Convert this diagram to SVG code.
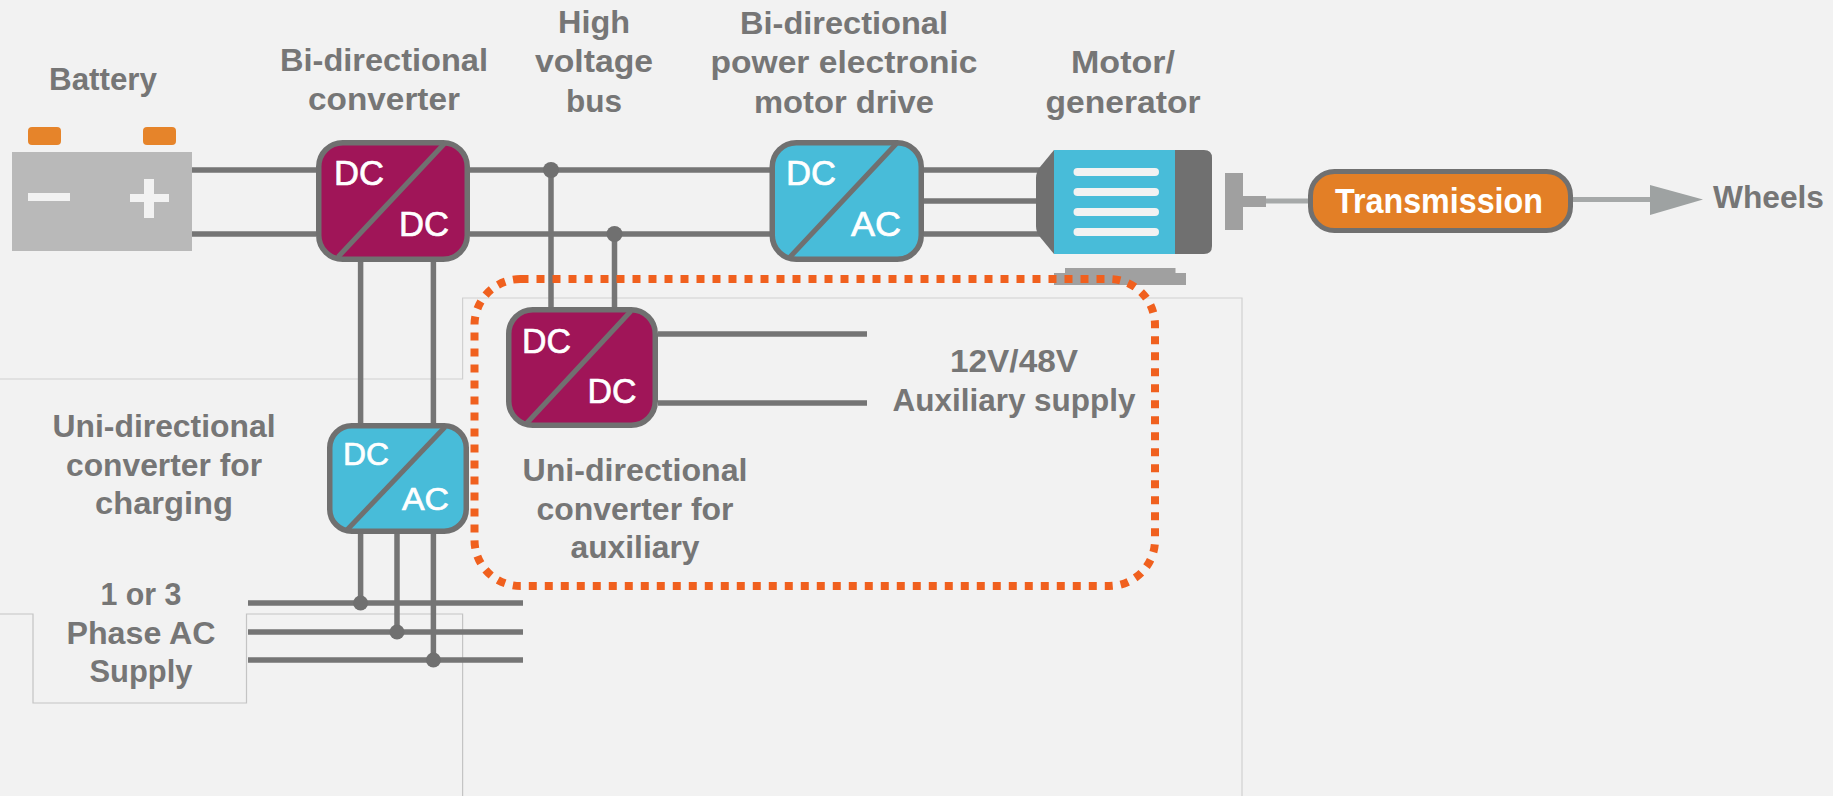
<svg xmlns="http://www.w3.org/2000/svg" width="1833" height="796" viewBox="0 0 1833 796">
<style>
.w{fill:none;stroke:#757575;stroke-width:5.5}
.thin{fill:none;stroke:#c4c4c4;stroke-width:1.2}
.box{stroke:#707070;stroke-width:5.5}
.mag{fill:#a01558}
.cy{fill:#48bcd9}
.diag{stroke:#707070;stroke-width:5}
.dot{fill:#707070}
.t{font-family:"Liberation Sans",Arial,sans-serif;font-weight:700;font-size:32px;fill:#767676;text-anchor:middle}
.c{font-family:"Liberation Sans",Arial,sans-serif;font-weight:400;font-size:35px;fill:#fff;stroke:#fff;stroke-width:0.7;text-anchor:middle}
.st{fill:#f2f2f2}
.g{fill:#a0a0a0}
</style>
<rect width="1833" height="796" fill="#f2f2f2"/>
<g id="frame">
<path class="thin" stroke-opacity="0.75" d="M0 379H462.6V298H1242V796"/>
<path class="thin" d="M0 614H33V703H246.5V614H462.6V796"/>
</g>
<g id="connectors">
<path class="w" d="M192 170H316M192 234H316M470 170H770M470 234H770M924 170H1040M924 201H1040M924 234H1040"/>
<path class="w" d="M551 170V307M614.5 234V307M658 334H867M658 403H867"/>
<path class="w" d="M360.6 262V423M433.4 262V423M360.6 534V603M397 534V632M433.4 534V660M248 603H523M248 632H523M248 660H523"/>
<circle class="dot" cx="551" cy="170" r="8"/>
<circle class="dot" cx="614.5" cy="234" r="8"/>
<circle class="dot" cx="360.6" cy="603" r="7.5"/>
<circle class="dot" cx="397" cy="632" r="7.5"/>
<circle class="dot" cx="433.4" cy="660" r="7.5"/>
<path d="M1265 201H1308" fill="none" stroke="#a6a9a9" stroke-width="5"/>
<path d="M1573 199.500H1655" fill="none" stroke="#a6a9a9" stroke-width="5"/>
<polygon points="1650,185 1703,199.500 1650,215" fill="#9ea2a2"/>
</g>
<g id="battery">
<rect x="28" y="127" width="33" height="18" rx="4" fill="#e6842a"/>
<rect x="143" y="127" width="33" height="18" rx="4" fill="#e6842a"/>
<rect x="12" y="152" width="180" height="99" fill="#b9b9b9"/>
<rect x="28" y="193" width="42" height="8" fill="#f2f2f2"/>
<path d="M130 194H144V179H154V194H169V202H154V218H144V202H130Z" fill="#f2f2f2"/>
<text class="t" x="103" y="90" textLength="108" lengthAdjust="spacingAndGlyphs">Battery</text>
</g>
<g id="bidir-converter">
<rect class="box mag" x="318.750" y="142.750" width="148.500" height="116.500" rx="24"/>
<line class="diag" x1="445" y1="143" x2="338" y2="257"/>
<text class="c" x="359" y="185" textLength="50" lengthAdjust="spacingAndGlyphs">DC</text>
<text class="c" x="424" y="236" textLength="50" lengthAdjust="spacingAndGlyphs">DC</text>
<text class="t" x="384" y="71" textLength="208" lengthAdjust="spacingAndGlyphs">Bi-directional</text>
<text class="t" x="384" y="110" textLength="152" lengthAdjust="spacingAndGlyphs">converter</text>
</g>
<g id="hv-bus">
<text class="t" x="594" y="33" textLength="72" lengthAdjust="spacingAndGlyphs">High</text>
<text class="t" x="594" y="72" textLength="118" lengthAdjust="spacingAndGlyphs">voltage</text>
<text class="t" x="594" y="112" textLength="56" lengthAdjust="spacingAndGlyphs">bus</text>
</g>
<g id="motor-drive">
<rect class="box cy" x="772.250" y="142.750" width="149" height="116.500" rx="24"/>
<line class="diag" x1="897" y1="143" x2="790" y2="257"/>
<text class="c" x="811" y="185" textLength="50" lengthAdjust="spacingAndGlyphs">DC</text>
<text class="c" x="876" y="236" textLength="50" lengthAdjust="spacingAndGlyphs">AC</text>
<text class="t" x="844" y="34" textLength="208" lengthAdjust="spacingAndGlyphs">Bi-directional</text>
<text class="t" x="844" y="73" textLength="267" lengthAdjust="spacingAndGlyphs">power electronic</text>
<text class="t" x="844" y="113" textLength="180" lengthAdjust="spacingAndGlyphs">motor drive</text>
</g>
<g id="motor">
<path d="M1036 178Q1036 172 1040 167L1054 150V254L1040 237Q1036 232 1036 226Z" fill="#707070"/>
<rect x="1054" y="150" width="121" height="104" fill="#48bcd9"/>
<path d="M1175 150H1204Q1212 150 1212 158V246Q1212 254 1204 254H1175Z" fill="#707070"/>
<rect class="st" x="1073.500" y="168" width="85.500" height="8" rx="4"/>
<rect class="st" x="1073.500" y="188" width="85.500" height="8" rx="4"/>
<rect class="st" x="1073.500" y="208" width="85.500" height="8" rx="4"/>
<rect class="st" x="1073.500" y="228" width="85.500" height="8" rx="4"/>
<rect class="g" x="1065" y="268" width="110.500" height="6"/>
<rect class="g" x="1054" y="273" width="132" height="12"/>
<text class="t" x="1123" y="73" textLength="104" lengthAdjust="spacingAndGlyphs">Motor/</text>
<text class="t" x="1123" y="112.500" textLength="155" lengthAdjust="spacingAndGlyphs">generator</text>
</g>
<g id="shaft">
<rect x="1225" y="173" width="18" height="57" fill="#a0a0a0"/>
<rect x="1243" y="196" width="23" height="11" fill="#a0a0a0"/>
</g>
<g id="transmission">
<rect x="1310.500" y="171.500" width="260" height="59" rx="24" fill="#e37f26" stroke="#707070" stroke-width="5"/>
<text x="1439" y="213" font-family="'Liberation Sans',Arial,sans-serif" font-weight="700" font-size="35" fill="#fff" text-anchor="middle" textLength="208" lengthAdjust="spacingAndGlyphs">Transmission</text>
</g>
<g id="wheels">
<text class="t" x="1768.500" y="208" textLength="111" lengthAdjust="spacingAndGlyphs">Wheels</text>
</g>
<g id="charger">
<rect class="box cy" x="329.750" y="425.750" width="136.500" height="105.500" rx="22"/>
<line class="diag" x1="445" y1="427" x2="346" y2="531"/>
<text class="c" x="366" y="465" style="font-size:32px" textLength="46" lengthAdjust="spacingAndGlyphs">DC</text>
<text class="c" x="425.500" y="510" style="font-size:32px" textLength="47" lengthAdjust="spacingAndGlyphs">AC</text>
<text class="t" x="164" y="437" textLength="223" lengthAdjust="spacingAndGlyphs">Uni-directional</text>
<text class="t" x="164" y="476" textLength="196" lengthAdjust="spacingAndGlyphs">converter for</text>
<text class="t" x="164" y="514" textLength="138" lengthAdjust="spacingAndGlyphs">charging</text>
</g>
<g id="ac-supply">
<text class="t" x="141" y="605" textLength="81" lengthAdjust="spacingAndGlyphs">1 or 3</text>
<text class="t" x="141" y="644" textLength="149" lengthAdjust="spacingAndGlyphs">Phase AC</text>
<text class="t" x="141" y="682" textLength="103" lengthAdjust="spacingAndGlyphs">Supply</text>
</g>
<g id="aux-converter">
<rect class="box mag" x="508.750" y="309.750" width="146.500" height="115.500" rx="24"/>
<line class="diag" x1="631" y1="311" x2="526" y2="424"/>
<text class="c" x="546.500" y="353" textLength="49" lengthAdjust="spacingAndGlyphs">DC</text>
<text class="c" x="612" y="403" textLength="49" lengthAdjust="spacingAndGlyphs">DC</text>
<text class="t" x="635" y="481" textLength="225" lengthAdjust="spacingAndGlyphs">Uni-directional</text>
<text class="t" x="635" y="520" textLength="197" lengthAdjust="spacingAndGlyphs">converter for</text>
<text class="t" x="635" y="558" textLength="129" lengthAdjust="spacingAndGlyphs">auxiliary</text>
</g>
<g id="aux-supply">
<text class="t" x="1014" y="372" textLength="128" lengthAdjust="spacingAndGlyphs">12V/48V</text>
<text class="t" x="1014" y="411" textLength="243" lengthAdjust="spacingAndGlyphs">Auxiliary supply</text>
</g>
<g id="aux-highlight">
<rect x="474.500" y="279" width="680.500" height="307" rx="46" fill="none" stroke="#f0601e" stroke-width="8" stroke-dasharray="8 8"/>
</g>
</svg>
